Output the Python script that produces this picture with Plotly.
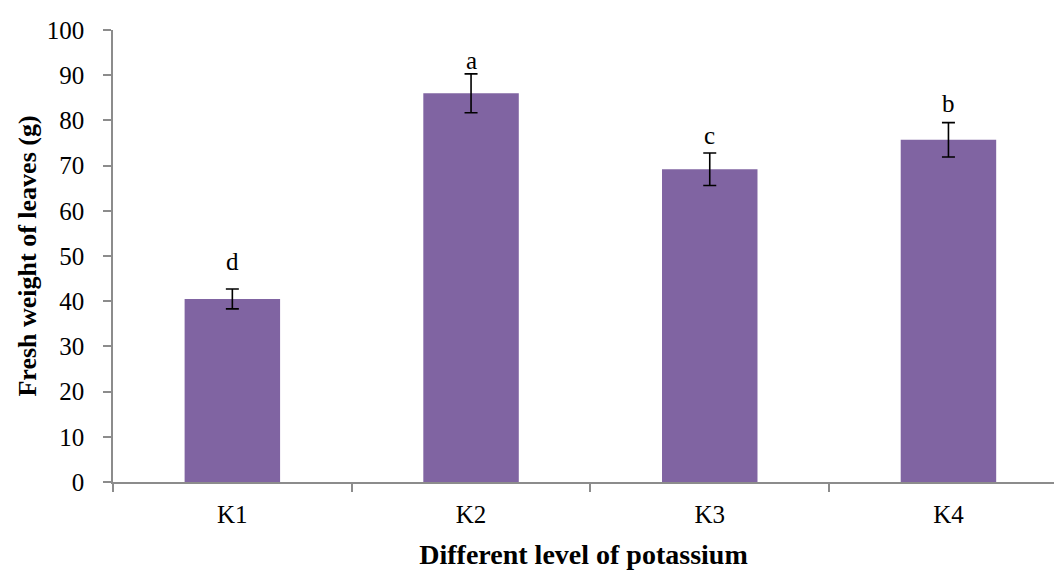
import plotly.graph_objects as go

# Fresh weight of leaves under four potassium levels
levels = ["K1", "K2", "K3", "K4"]
fresh_weight = [40.5, 86.0, 69.2, 75.7]
std_err = [2.2, 4.3, 3.6, 3.8]
sig_letters = ["d", "a", "c", "b"]
letter_y = [48.7, 93.3, 76.7, 83.8]

FONT = "Liberation Serif, Times New Roman, serif"
AXIS_GREY = "#8c8c8c"

fig = go.Figure()
fig.add_trace(go.Bar(
    x=levels,
    y=fresh_weight,
    width=0.4,
    marker=dict(color="#8064A2", line=dict(width=0)),
    error_y=dict(type="data", array=std_err, visible=True,
                 color="black", thickness=1.6, width=6.5),
    showlegend=False,
))

for lv, txt, ty in zip(levels, sig_letters, letter_y):
    fig.add_annotation(x=lv, y=ty, text=txt, showarrow=False,
                       font=dict(family=FONT, size=25, color="black"),
                       xanchor="center", yanchor="middle")

fig.update_layout(
    width=1054, height=570,
    margin=dict(l=113, r=0, t=30, b=88),
    paper_bgcolor="white", plot_bgcolor="white",
    font=dict(family=FONT, size=25, color="black"),
    bargap=0.6,
)

fig.update_xaxes(
    type="category",
    range=[-0.5, -0.5 + (1054 - 113) / 238.7],
    showline=True, linecolor=AXIS_GREY, linewidth=1.5,
    ticks="outside", tickson="boundaries", ticklen=8,
    tickcolor=AXIS_GREY, tickwidth=1.5,
    tickfont=dict(family=FONT, size=25, color="black"),
    ticklabelstandoff=9,
    showgrid=False,
    title=dict(text="<b>Different level of potassium</b>",
               font=dict(family=FONT, size=28, color="black"), standoff=18),
)

fig.update_yaxes(
    range=[0, 100], dtick=10,
    showline=True, linecolor=AXIS_GREY, linewidth=1.5,
    ticks="outside", ticklen=8, tickcolor=AXIS_GREY, tickwidth=1.5,
    tickfont=dict(family=FONT, size=25, color="black"),
    ticklabelstandoff=14,
    showgrid=False, zeroline=False,
    title=dict(text="<b>Fresh weight of leaves (g)</b>",
               font=dict(family=FONT, size=26, color="black"), standoff=3),
)

fig.write_html("out.html")
